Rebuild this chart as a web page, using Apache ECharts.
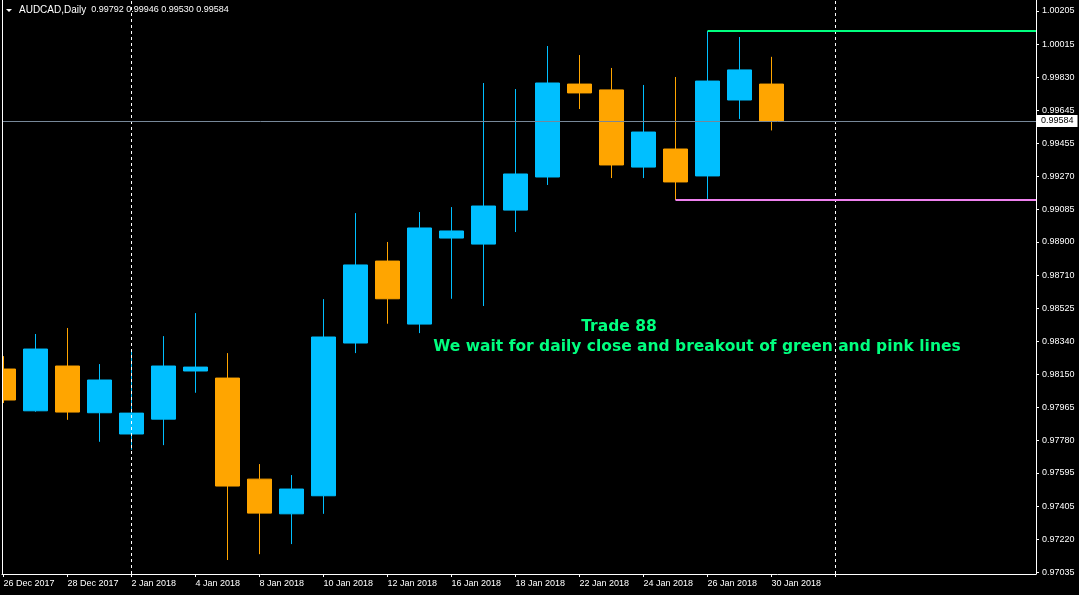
<!DOCTYPE html>
<html><head><meta charset="utf-8">
<script src="https://cdn.jsdelivr.net/npm/echarts@6/dist/echarts.min.js"></script>
<style>html,body{margin:0;padding:0;background:#000;}#c{width:1079px;height:595px;}</style>
</head><body><div id="c"></div>
<script>
const dates = ['26 Dec 2017','27 Dec 2017','28 Dec 2017','29 Dec 2017','2 Jan 2018','3 Jan 2018','4 Jan 2018','5 Jan 2018','8 Jan 2018','9 Jan 2018','10 Jan 2018','11 Jan 2018','12 Jan 2018','15 Jan 2018','16 Jan 2018','17 Jan 2018','18 Jan 2018','19 Jan 2018','22 Jan 2018','23 Jan 2018','24 Jan 2018','25 Jan 2018','26 Jan 2018','29 Jan 2018','30 Jan 2018'];
const opens  = [0.98182,0.97946,0.98199,0.97935,0.97815,0.97899,0.98171,0.98131,0.97560,0.97364,0.97466,0.98329,0.98792,0.98436,0.98922,0.98888,0.99080,0.99267,0.99792,0.99759,0.99323,0.99425,0.99273,0.99702,0.99792];
const closes = [0.98007,0.98295,0.97939,0.98120,0.97933,0.98199,0.98193,0.97521,0.97368,0.97504,0.98363,0.98770,0.98579,0.98979,0.98962,0.99103,0.99284,0.99798,0.99742,0.99335,0.99521,0.99239,0.99809,0.99872,0.99584];
const lows   = [0.97990,0.97941,0.97895,0.97771,0.97726,0.97752,0.98048,0.97103,0.97136,0.97193,0.97364,0.98272,0.98438,0.98385,0.98579,0.98538,0.98956,0.99222,0.99651,0.99261,0.99261,0.99137,0.99143,0.99595,0.99530];
const highs  = [0.98255,0.98380,0.98414,0.98210,0.98285,0.98368,0.98498,0.98272,0.97645,0.97583,0.98577,0.99063,0.98900,0.99069,0.99097,0.99798,0.99764,1.00007,0.99956,0.99883,0.99787,0.99832,1.00092,1.00058,0.99946];
const priceTicks = ['1.00205','1.00015','0.99830','0.99645','0.99455','0.99270','0.99085','0.98900','0.98710','0.98525','0.98340','0.98150','0.97965','0.97780','0.97595','0.97405','0.97220','0.97035'];
const dateLabelIdx = [0,2,4,6,8,10,12,14,16,18,20,22,24];
const dateTickIdx = [0,2,4,6,8,10,12,14,16,18,20,22,24,26];
const separatorIdx = [4, 26];
const resistance = 1.00092, resistanceFrom = 22;
const support = 0.99137, supportFrom = 21;
const symbolName = 'AUDCAD,Daily';
const title1 = 'Trade 88';
const title2 = 'We wait for daily close and breakout of green and pink lines';

const X_MIN = -0.046875, X_MAX = 32.265625;
const Y_MIN = 0.97024, Y_MAX = 1.00267;
const last = dates.length - 1;
const candleData = dates.map((d, i) => [i, opens[i], closes[i], lows[i], highs[i]]);
const fontAxis = 'Liberation Sans';
const bid = closes[last];

const chart = echarts.init(document.getElementById('c'));
chart.setOption({
  animation: false,
  backgroundColor: '#000',
  grid: { left: 2, right: 43, top: 0, bottom: 21, containLabel: false },
  xAxis: {
    type: 'value', min: X_MIN, max: X_MAX,
    splitLine: { show: false },
    axisLine: { show: true, onZero: false, lineStyle: { color: '#fff', width: 1 } },
    axisTick: { show: true, length: 3, customValues: dateTickIdx, lineStyle: { color: '#fff' } },
    axisLabel: {
      customValues: dateLabelIdx, color: '#fff', fontFamily: fontAxis, fontSize: 9,
      align: 'left', margin: 5, formatter: v => dates[Math.round(v)] || ''
    }
  },
  yAxis: [{
    type: 'value', position: 'right', min: Y_MIN, max: Y_MAX, scale: true,
    splitLine: { show: false },
    axisLine: { show: true, onZero: false, lineStyle: { color: '#fff', width: 1 } },
    axisTick: { show: true, length: 3, customValues: priceTicks.map(Number), lineStyle: { color: '#fff' } },
    axisLabel: {
      customValues: priceTicks.map(Number), color: '#fff', fontFamily: fontAxis, fontSize: 9, margin: 6,
      formatter: v => v.toFixed(5)
    }
  }, {
    type: 'value', position: 'left', min: Y_MIN, max: Y_MAX, scale: true, z: 50,
    splitLine: { show: false },
    axisLine: { show: true, onZero: false, lineStyle: { color: '#fff', width: 1 } },
    axisTick: { show: false }, axisLabel: { show: false }
  }],
  series: [{
    type: 'candlestick',
    yAxisIndex: 0,
    barWidth: 25,
    data: candleData,
    itemStyle: { color: '#00BFFF', color0: '#FFA500', borderColor: '#00BFFF', borderColor0: '#FFA500', borderColorDoji: '#00BFFF', borderWidth: 1 },
    markLine: {
      silent: true, symbol: 'none', animation: false,
      label: { show: false },
      data: [
        ...separatorIdx.map(ix => ({ xAxis: ix, lineStyle: { color: '#fff', type: [3, 3], width: 1 } })),
        [{ coord: [resistanceFrom, resistance], lineStyle: { color: '#00FF7F', type: 'solid', width: 2 } }, { coord: [X_MAX, resistance] }],
        [{ coord: [supportFrom, support], lineStyle: { color: '#EE82EE', type: 'solid', width: 2 } }, { coord: [X_MAX, support] }],
        [{ coord: [X_MIN, bid], lineStyle: { color: '#778899', type: 'solid', width: 1 },
           label: { show: true, position: 'end', distance: 1, formatter: bid.toFixed(5),
                    backgroundColor: '#fff', color: '#000', fontFamily: fontAxis, fontSize: 9, padding: [2, 4, 1, 4] } },
         { coord: [X_MAX, bid] }]
      ]
    }
  }],
  graphic: [
    { type: 'rect', shape: { x: 0, y: 0, width: 2, height: 574 }, style: { fill: '#000' }, z: 40, silent: true },
    { type: 'polygon', shape: { points: [[6, 9], [12, 9], [9, 12]] }, style: { fill: '#fff' }, z: 100 },
    { type: 'text', x: 19, y: 10, z: 100, style: {
        text: '{a|' + symbolName + '}  {b|' + [opens[last], highs[last], lows[last], closes[last]].map(v => v.toFixed(5)).join(' ') + '}',
        rich: { a: { fill: '#fff', font: '10px "Liberation Sans"' }, b: { fill: '#fff', font: '9px "Liberation Sans"' } },
        fill: '#fff', font: '9px "Liberation Sans"', textVerticalAlign: 'middle' } },
    { type: 'text', x: 619, y: 327, z: 100, style: { text: title1, fill: '#00FF7F', font: 'bold 15.5px "DejaVu Sans"', textAlign: 'center', textVerticalAlign: 'middle' } },
    { type: 'text', x: 697, y: 347, z: 100, style: { text: title2, fill: '#00FF7F', font: 'bold 15.5px "DejaVu Sans"', textAlign: 'center', textVerticalAlign: 'middle' } }
  ]
});
</script></body></html>
